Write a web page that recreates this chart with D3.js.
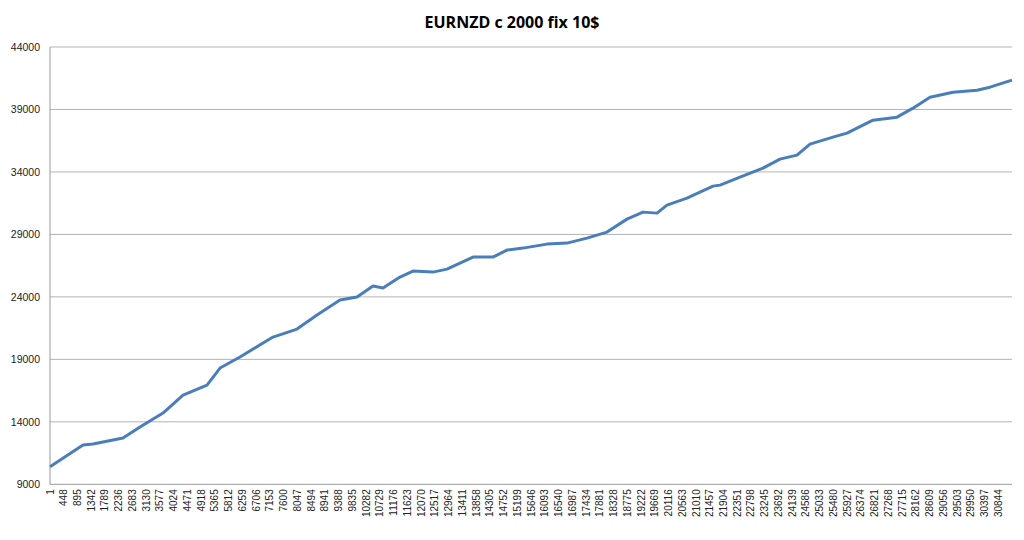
<!DOCTYPE html>
<html><head><meta charset="utf-8">
<script src="https://cdn.jsdelivr.net/npm/d3@7"></script>
<style>body{margin:0;background:#fff}</style></head>
<body><svg id="c" width="1024" height="540"></svg>
<script>
const title = "EURNZD c 2000 fix 10$";
const trades = [1,1074,1399,2375,2928,3676,4327,5107,5530,6180,7253,8034,8684,9432,9985,10505,10830,11383,11806,12456,12911,13757,14407,14862,15383,16163,16814,17464,18115,18765,19285,19741,20066,20716,21562,21789,22440,23188,23741,24294,24716,25464,25920,26765,27546,28066,28619,29367,30148,30570,31286];
const balance = [10408,12144,12224,12704,13584,14704,16144,16944,18304,19184,20784,21424,22544,23744,23984,24864,24704,25584,26064,25984,26224,27184,27184,27744,27904,28224,28304,28704,29184,30224,30784,30704,31344,31904,32864,32944,33584,34304,35024,35344,36224,36784,37104,38144,38384,39104,39984,40384,40544,40784,41344];
const yTicks = [9000,14000,19000,24000,29000,34000,39000,44000];
const xTickStep = 447, xTickLast = 30844;
const xTicks = d3.range(1, xTickLast + 1, xTickStep);

const svg = d3.select("#c");
const L = 50, R = 1012, T = 47, B = 484.3;
const x = d3.scaleLinear().domain([1, 31286]).range([L, R]);
const y = d3.scaleLinear().domain([9000, 44000]).range([B, T]);

svg.append("text").attr("x", 512).attr("y", 28).attr("text-anchor", "middle")
  .attr("font-family", "Open Sans, Liberation Sans, sans-serif").attr("font-weight", "bold")
  .attr("font-size", 16).text(title);

svg.append("g").selectAll("line").data(yTicks.slice(1)).join("line")
  .attr("x1", L).attr("x2", R).attr("y1", d => y(d)).attr("y2", d => y(d))
  .attr("stroke", "#b3b3b3").attr("stroke-width", 1);

svg.append("g").selectAll("text").data(yTicks).join("text")
  .attr("x", 40).attr("y", d => y(d) + 4).attr("text-anchor", "end")
  .attr("font-family", "Liberation Sans, Arial, sans-serif").attr("font-size", 10.5)
  .attr("fill", "#222").text(d => d);

svg.append("line").attr("x1", L).attr("x2", L).attr("y1", T).attr("y2", B).attr("stroke", "#999");
svg.append("line").attr("x1", L).attr("x2", R).attr("y1", B).attr("y2", B).attr("stroke", "#999");

svg.append("g").selectAll("text").data(xTicks).join("text")
  .attr("transform", d => `translate(${x(d) + 3.5},${B + 5}) rotate(-90)`)
  .attr("text-anchor", "end")
  .attr("font-family", "Liberation Sans, Arial, sans-serif").attr("font-size", 10)
  .attr("fill", "#222").text(d => d);

const pts = trades.map((t, i) => [t, balance[i]]);
svg.append("path").datum(pts)
  .attr("d", d3.line().x(d => x(d[0])).y(d => y(d[1])))
  .attr("fill", "none").attr("stroke", "#4a7ebb").attr("stroke-width", 3)
  .attr("stroke-linejoin", "round");
</script></body></html>
